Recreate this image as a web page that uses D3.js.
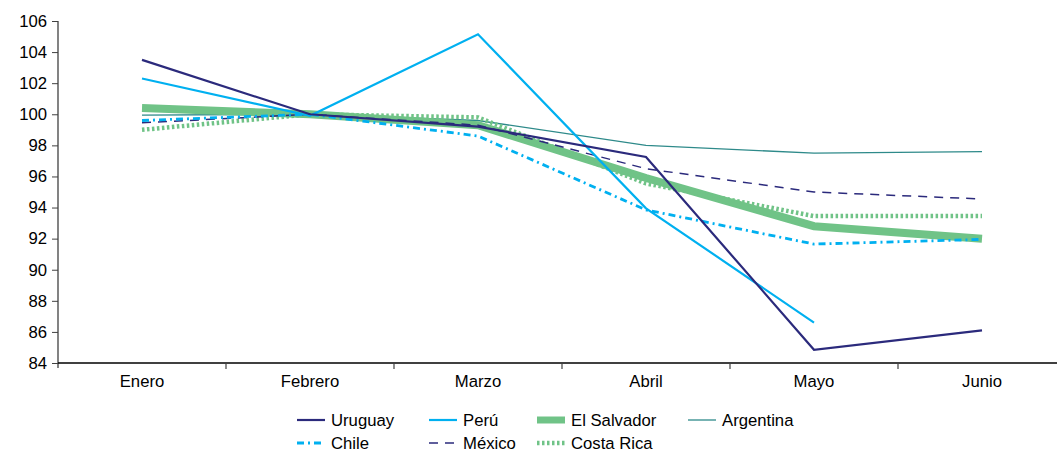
<!DOCTYPE html>
<html><head><meta charset="utf-8">
<script src="https://cdn.jsdelivr.net/npm/d3@7"></script>
<style>body{margin:0;background:#fff}svg{display:block}text{font-family:"Liberation Sans",Arial,sans-serif}</style>
</head><body><svg id="c" width="1057" height="452"></svg>
<script>
const months = ["Enero","Febrero","Marzo","Abril","Mayo","Junio"];
const yTicks = [84,86,88,90,92,94,96,98,100,102,104,106];
const uruguay    = [103.5, 100.0, 99.2, 97.25, 84.85, 86.1];
const peru       = [102.3, 99.9, 105.15, 93.95, 86.6, null];
const elSalvador = [100.4, 100.0, 99.3, 95.9, 92.8, 92.0];
const argentina  = [99.95, 100.0, 99.6, 98.0, 97.5, 97.6];
const chile      = [99.6, 100.0, 98.6, 93.85, 91.65, 91.95];
const mexico     = [99.45, 100.0, 99.3, 96.5, 95.0, 94.55];
const costaRica  = [99.0, 100.0, 99.8, 95.55, 93.45, 93.45];

const series = [
  {name:"Uruguay", values:uruguay, color:"#2b2a7c", width:2.2, dash:null},
  {name:"Perú", values:peru, color:"#00b0f0", width:2.2, dash:null},
  {name:"El Salvador", values:elSalvador, color:"#70c387", width:8, dash:null},
  {name:"Argentina", values:argentina, color:"#2e8a8a", width:1.3, dash:null},
  {name:"Chile", values:chile, color:"#00b0f0", width:2.8, dash:"7,4,2,4"},
  {name:"México", values:mexico, color:"#2b2a7c", width:1.5, dash:"9,7"},
  {name:"Costa Rica", values:costaRica, color:"#70c387", width:4.5, dash:"2.5,2.5"}
];
const drawOrder = ["Argentina","El Salvador","Costa Rica","México","Chile","Perú","Uruguay"];
const FS = 16.7;

const svg = d3.select("#c");
const x = d3.scaleBand().domain(months).range([58, 1066]);
const y = d3.scaleLinear().domain([84,106]).range([363, 21]);

// y axis
const ya = svg.append("g").attr("transform","translate(58,0)")
  .call(d3.axisLeft(y).tickValues(yTicks).tickSize(6).tickPadding(5).tickFormat(d3.format("d")));
ya.select(".domain").attr("stroke","#404040").attr("stroke-width",1.3).attr("d","M0,21V368");
ya.selectAll(".tick line").attr("stroke","#404040");
ya.selectAll("text").attr("font-size",FS).attr("fill","#000").attr("font-family","Liberation Sans, Arial, sans-serif");

// x axis
const xa = svg.append("g").attr("transform","translate(0,363)")
  .call(d3.axisBottom(x).tickSize(0).tickPadding(12));
xa.select(".domain").attr("stroke","#000").attr("stroke-width",1.3).attr("d","M58,0H1057");
xa.selectAll("text").attr("font-size",FS).attr("fill","#000").attr("font-family","Liberation Sans, Arial, sans-serif");
xa.selectAll(".bnd").data(months.slice(1)).enter().append("line")
  .attr("x1",d=>x(d)).attr("x2",d=>x(d)).attr("y1",0).attr("y2",6).attr("stroke","#404040").attr("stroke-width",1.2);

const line = d3.line().defined(d=>d!=null)
  .x((d,i)=>x(months[i])+x.bandwidth()/2).y(d=>y(d));

drawOrder.forEach(n=>{
  const s = series.find(t=>t.name===n);
  svg.append("path").datum(s.values).attr("d",line)
    .attr("fill","none").attr("stroke",s.color).attr("stroke-width",s.width)
    .attr("stroke-dasharray",s.dash).attr("stroke-linejoin","miter");
});

// legend
const legendPos = [
  {n:"Uruguay",x:297,y:420},{n:"Perú",x:429,y:420},{n:"El Salvador",x:537,y:420},{n:"Argentina",x:688,y:420},
  {n:"Chile",x:297,y:443},{n:"México",x:429,y:443},{n:"Costa Rica",x:537,y:443}
];
legendPos.forEach(p=>{
  const s = series.find(t=>t.name===p.n);
  const g = svg.append("g").attr("transform",`translate(${p.x},${p.y})`);
  g.append("line").attr("x1",0).attr("x2",28).attr("y1",0).attr("y2",0)
    .attr("stroke",s.color).attr("stroke-width",Math.min(s.width,7)).attr("stroke-dasharray",s.dash);
  g.append("text").attr("x",34).attr("y",0).attr("dy","0.33em").attr("font-size",FS).attr("fill","#000").text(s.name);
});
</script></body></html>
